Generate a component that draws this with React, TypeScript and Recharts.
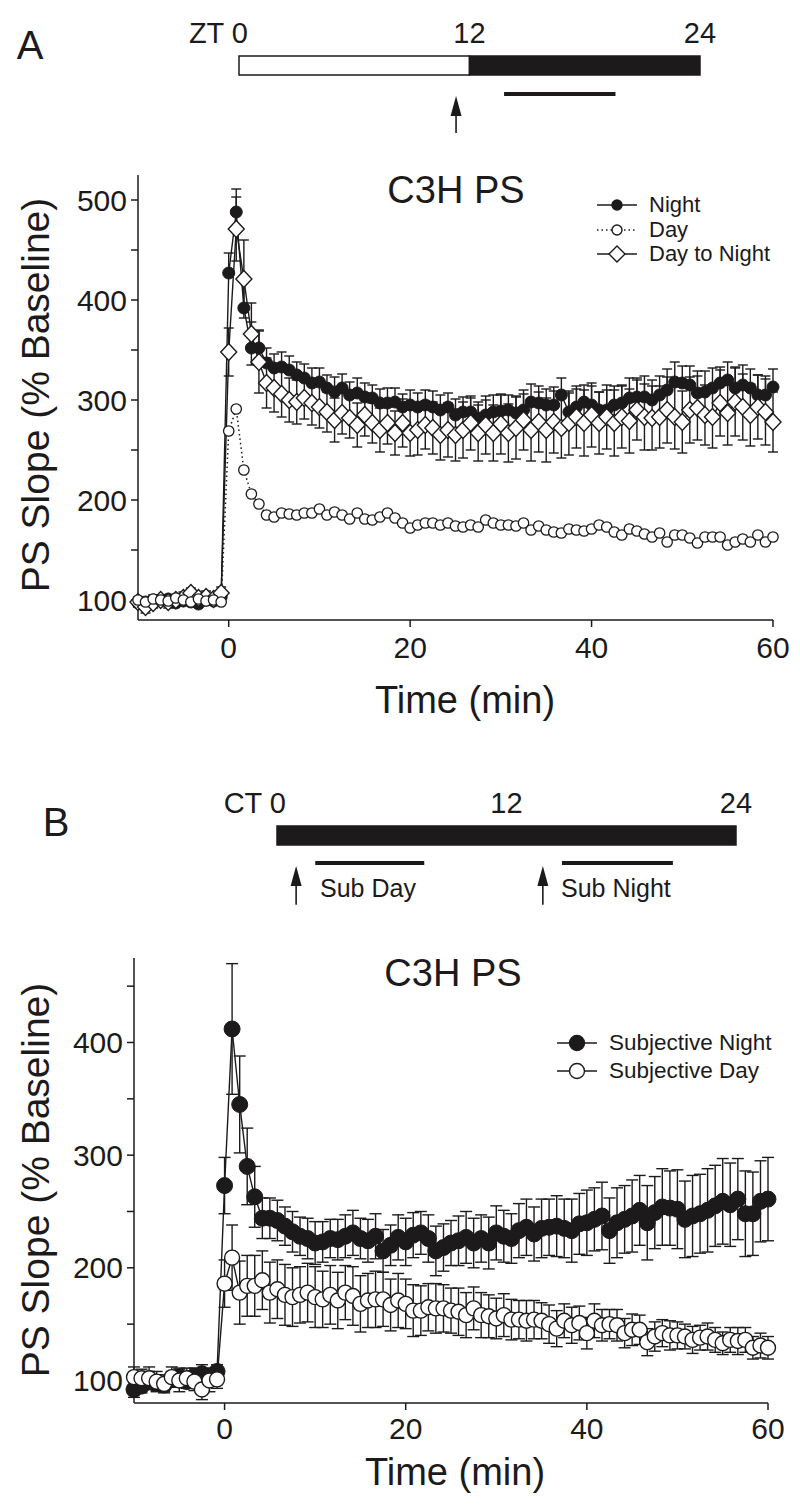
import React from "react";
import {
  ComposedChart,
  Line,
  XAxis,
  YAxis,
  ErrorBar,
  Legend,
  ReferenceArea,
  ReferenceLine,
  ReferenceDot,
} from "recharts";

const FONT = "'Liberation Sans', Arial, Helvetica, sans-serif";
const INK = "#1c1a1b";

// sample times (min) – one sweep every 50 s, 10 min baseline
const minutes = [
  -10, -9.17, -8.33, -7.5, -6.67, -5.83, -5, -4.17, -3.33, -2.5, -1.67, -0.83,
  0, 0.83, 1.67, 2.5, 3.33, 4.17, 5, 5.83, 6.67, 7.5, 8.33, 9.17, 10, 10.83,
  11.67, 12.5, 13.33, 14.17, 15, 15.83, 16.67, 17.5, 18.33, 19.17, 20, 20.83,
  21.67, 22.5, 23.33, 24.17, 25, 25.83, 26.67, 27.5, 28.33, 29.17, 30, 30.83,
  31.67, 32.5, 33.33, 34.17, 35, 35.83, 36.67, 37.5, 38.33, 39.17, 40, 40.83,
  41.67, 42.5, 43.33, 44.17, 45, 45.83, 46.67, 47.5, 48.33, 49.17, 50, 50.83,
  51.67, 52.5, 53.33, 54.17, 55, 55.83, 56.67, 57.5, 58.33, 59.17, 60,
];

// ---- panel A: C3H PS, Night / Day / Day to Night ----
const nightA = [
  97, 98, 100, 99, 101, 97, 99, 98, 96, 100, 99, 103,
  427, 488, 392, 352, 352, 337, 332, 333, 330, 325,
  322, 317, 318, 312, 308, 312, 305, 307, 303, 302,
  297, 297, 298, 293, 295, 293, 295, 293, 290, 293,
  285, 288, 288, 282, 285, 288, 289, 290, 287, 290,
  298, 297, 295, 295, 305, 288, 293, 298, 295, 290,
  290, 295, 297, 302, 303, 303, 300, 305, 310, 318,
  317, 315, 307, 308, 312, 317, 320, 312, 315, 312,
  305, 305, 313,
];
const nightErrA = [
  4, 4, 5, 4, 4, 5, 4, 4, 5, 4, 4, 5,
  20, 23, 30, 26, 18, 15, 14, 15, 14, 13,
  14, 15, 14, 13, 15, 14, 13, 15, 14, 13,
  14, 15, 14, 13, 15, 14, 15, 16, 15, 14,
  16, 15, 14, 16, 15, 17, 16, 15, 17, 16,
  18, 17, 16, 18, 17, 19, 18, 17, 19, 18,
  20, 19, 18, 20, 19, 21, 20, 19, 21, 20,
  17, 19, 22, 21, 20, 16, 18, 21, 20, 19,
  20, 19, 18,
];
const dayA = [
  100, 98, 101, 100, 99, 102, 100, 98, 101, 99, 100, 98,
  269, 291, 230, 206, 196, 185, 183, 187, 186, 185,
  187, 187, 191, 185, 188, 185, 181, 187, 181, 180,
  183, 187, 182, 177, 172, 175, 177, 177, 175, 177,
  174, 173, 175, 173, 180, 177, 175, 175, 174, 177,
  170, 174, 170, 168, 167, 171, 170, 169, 171, 175,
  173, 168, 165, 171, 169, 166, 163, 167, 158, 165,
  165, 162, 157, 163, 163, 163, 155, 158, 161, 158,
  165, 158, 163,
];
const dayToNightA = [
  98, 93, 97, 100, 98, 100, 102, 107, 102, 103, 101, 107,
  348, 471, 421, 366, 338, 317, 312, 306, 300, 298,
  302, 297, 293, 288, 280, 287, 282, 275, 285, 277,
  270, 277, 267, 277, 267, 270, 275, 272, 265, 270,
  265, 270, 277, 267, 275, 267, 276, 267, 272, 280,
  270, 278, 270, 278, 272, 277, 283, 277, 285, 277,
  283, 277, 283, 279, 290, 283, 282, 283, 290, 283,
  278, 290, 292, 285, 283, 297, 287, 298, 293, 285,
  293, 288, 278,
];
const dayToNightErrA = [
  5, 6, 5, 5, 6, 5, 6, 5, 5, 6, 5, 6,
  24, 32, 39, 31, 31, 25, 24, 23, 22, 22,
  21, 22, 21, 20, 22, 21, 20, 22, 21, 20,
  22, 21, 22, 24, 23, 25, 24, 26, 25, 27,
  26, 28, 27, 28, 29, 28, 30, 29, 31, 30,
  31, 30, 32, 31, 30, 32, 31, 33, 32, 31,
  32, 33, 31, 32, 30, 33, 32, 31, 33, 32,
  31, 33, 32, 30, 31, 33, 32, 34, 33, 31,
  32, 33, 30,
];

// ---- panel B: C3H PS, Subjective Night / Subjective Day ----
const subNightB = [
  92, 95, 100, 98, 96, 101, 103, 99, 104, 106, 104, 108,
  273, 412, 345, 290, 263, 244, 244, 242, 237, 232,
  228, 226, 222, 223, 226, 225, 228, 231, 226, 224,
  228, 215, 220, 227, 223, 229, 231, 226, 215, 218,
  222, 224, 227, 222, 226, 222, 231, 228, 226, 233,
  236, 230, 235, 236, 237, 235, 233, 239, 240, 243,
  246, 233, 240, 243, 246, 251, 240, 249, 254, 253,
  252, 243, 246, 248, 251, 255, 259, 256, 261, 248,
  248, 259, 261,
];
const subNightErrB = [
  7, 6, 8, 7, 6, 7, 8, 6, 7, 8, 7, 6,
  25, 58, 43, 34, 27, 18, 18, 18, 17, 18,
  17, 18, 19, 18, 17, 18, 19, 20, 18, 19,
  20, 19, 18, 20, 21, 20, 19, 21, 22, 21,
  20, 22, 23, 22, 21, 23, 24, 23, 22, 24,
  25, 24, 26, 25, 27, 26, 28, 27, 29, 28,
  30, 29, 31, 30, 32, 31, 33, 32, 34, 33,
  35, 34, 36, 35, 37, 36, 38, 37, 36, 38,
  37, 36, 37,
];
const subDayB = [
  103, 102, 102, 99, 97, 103, 100, 102, 99, 92, 100, 101,
  186, 209, 178, 184, 184, 189, 178, 181, 176, 174,
  176, 178, 174, 172, 176, 171, 178, 175, 168, 171,
  172, 172, 167, 171, 168, 162, 162, 165, 164, 164,
  162, 161, 158, 164, 158, 157, 155, 158, 154, 154,
  153, 154, 153, 150, 146, 153, 149, 151, 142, 153,
  149, 150, 149, 142, 145, 145, 134, 139, 142, 140,
  140, 139, 136, 138, 139, 136, 133, 136, 135, 136,
  129, 131, 129,
];
const subDayErrB = [
  9, 8, 10, 9, 8, 9, 10, 9, 8, 9, 10, 8,
  21, 29, 28, 27, 27, 26, 27, 26, 27, 26,
  25, 26, 27, 25, 26, 25, 24, 26, 25, 24,
  25, 24, 23, 24, 22, 23, 22, 21, 22, 21,
  20, 21, 20, 19, 20, 19, 18, 19, 18, 17,
  18, 17, 16, 17, 16, 15, 16, 15, 14, 15,
  14, 13, 14, 13, 14, 13, 12, 13, 12, 13,
  12, 11, 12, 11, 12, 11, 10, 11, 12, 11,
  10, 11, 10,
];

const timeTicks = [0, 20, 40, 60];
const yTicksA = [100, 150, 200, 250, 300, 350, 400, 450, 500];
const yTicksB = [100, 150, 200, 250, 300, 350, 400, 450];

// ---- circadian timelines (hours) ----
const hourTicks = [0, 12, 24];
const lightPhaseA = [0, 12];
const darkPhaseA = [12, 24];
const recordingA = [13.8, 19.6];
const arrowsA = [11.3];
const constantDarkB = [0, 24];
const subDayWindow = [2.0, 7.7];
const subNightWindow = [14.9, 20.7];
const arrowsB = [1.0, 13.9];

const rowsA = minutes.map((t, i) => ({
  t,
  night: nightA[i],
  nightErr: [0, nightErrA[i]],
  day: dayA[i],
  d2n: dayToNightA[i],
  d2nErr: dayToNightErrA[i],
}));

const rowsB = minutes.map((t, i) => ({
  t,
  night: subNightB[i],
  nightErr: subNightErrB[i],
  day: subDayB[i],
  dayErr: subDayErrB[i],
}));

const Diamond = (p: any) => {
  const { cx, cy, index } = p;
  if (cx == null || cy == null) return <g key={index} />;
  return (
    <polygon
      key={index}
      points={`${cx},${cy - 8.5} ${cx + 8},${cy} ${cx},${cy + 8.5} ${cx - 8},${cy}`}
      fill="#fff"
      stroke={INK}
      strokeWidth={1.4}
    />
  );
};

const OpenDot = (p: any) => {
  const { cx, cy, index } = p;
  if (cx == null || cy == null) return <g key={index} />;
  return <circle key={index} cx={cx} cy={cy} r={5.2} fill="#fff" stroke={INK} strokeWidth={1.3} />;
};

const Txt = ({
  x,
  y,
  size,
  children,
}: {
  x: number;
  y: number;
  size: number;
  children: React.ReactNode;
}) => (
  <div
    style={{
      position: "absolute",
      left: x,
      top: y,
      transform: "translate(-50%, -50%)",
      fontSize: size,
      lineHeight: 1,
      whiteSpace: "nowrap",
    }}
  >
    {children}
  </div>
);

type LegendItem = { name: string; marker: "filled" | "open" | "diamond"; dash?: string };

const makeLegend = (items: LegendItem[], rowH: number, r: number, size: number) => () =>
  (
    <div style={{ fontFamily: FONT, color: INK, fontSize: size, lineHeight: 1 }}>
      {items.map((it) => (
        <div key={it.name} style={{ display: "flex", alignItems: "center", height: rowH }}>
          <svg width={44} height={20} style={{ marginRight: 9 }}>
            <line x1={1} y1={10} x2={41} y2={10} stroke={INK} strokeWidth={1.4} strokeDasharray={it.dash} />
            {it.marker === "diamond" ? (
              <polygon points="21,2 29,10 21,18 13,10" fill="#fff" stroke={INK} strokeWidth={1.4} />
            ) : (
              <circle cx={21} cy={10} r={r} fill={it.marker === "filled" ? INK : "#fff"} stroke={INK} strokeWidth={1.4} />
            )}
          </svg>
          <span>{it.name}</span>
        </div>
      ))}
    </div>
  );

const legendA = makeLegend(
  [
    { name: "Night", marker: "filled" },
    { name: "Day", marker: "open", dash: "1.5 3" },
    { name: "Day to Night", marker: "diamond" },
  ],
  24.5,
  5,
  22
);

const legendB = makeLegend(
  [
    { name: "Subjective Night", marker: "filled" },
    { name: "Subjective Day", marker: "open" },
  ],
  28,
  7.5,
  22.5
);

const tickFont = { fontSize: 30, fill: INK, fontFamily: FONT };

const hourTick = (prefix: string) => (p: any) => {
  const { x, y, payload } = p;
  const v = payload.value;
  return (
    <text
      x={v === 0 ? x + 9 : x}
      y={y - 5}
      textAnchor={v === 0 ? "end" : "middle"}
      fontSize={29}
      fontFamily={FONT}
      fill={INK}
    >
      {v === 0 ? `${prefix} 0` : v}
    </text>
  );
};

const arrowHead = (p: any) => {
  const { cx, cy } = p;
  return <polygon points={`${cx},${cy} ${cx + 5.5},${cy + 20} ${cx - 5.5},${cy + 20}`} fill={INK} />;
};

const textMark = (label: string) => (p: any) =>
  (
    <text x={p.cx} y={p.cy} dominantBaseline="central" fontSize={25} fontFamily={FONT} fill={INK}>
      {label}
    </text>
  );

const hourFrame = [{ h: 0 }, { h: 12 }, { h: 24 }];

function TimelineA() {
  return (
    <ComposedChart width={800} height={140} data={hourFrame} margin={{ top: 26, right: 100, bottom: 0, left: 239 }}>
      <XAxis
        dataKey="h"
        type="number"
        domain={[0, 24]}
        allowDataOverflow
        ticks={hourTicks}
        orientation="top"
        height={30}
        axisLine={false}
        tickLine={false}
        tick={hourTick("ZT")}
      />
      <YAxis hide type="number" domain={[0, 4.42]} allowDataOverflow reversed />
      <ReferenceArea x1={lightPhaseA[0]} x2={lightPhaseA[1]} y1={0} y2={1} fill="#fff" fillOpacity={1} stroke={INK} strokeWidth={1.5} ifOverflow="visible" />
      <ReferenceArea x1={darkPhaseA[0]} x2={darkPhaseA[1]} y1={0} y2={1} fill={INK} fillOpacity={1} stroke={INK} strokeWidth={1.5} ifOverflow="visible" />
      <ReferenceLine
        segment={[{ x: recordingA[0], y: 2 }, { x: recordingA[1], y: 2 }]}
        stroke={INK}
        strokeWidth={4}
        ifOverflow="visible"
      />
      {arrowsA.map((h) => (
        <ReferenceLine key={`s${h}`} segment={[{ x: h, y: 2.6 }, { x: h, y: 4.05 }]} stroke={INK} strokeWidth={1.6} ifOverflow="visible" />
      ))}
      {arrowsA.map((h) => (
        <ReferenceDot key={`h${h}`} x={h} y={2.1} r={1} shape={arrowHead} ifOverflow="visible" />
      ))}
    </ComposedChart>
  );
}

function TimelineB() {
  return (
    <ComposedChart width={800} height={140} data={hourFrame} margin={{ top: 26, right: 64, bottom: 0, left: 277 }}>
      <XAxis
        dataKey="h"
        type="number"
        domain={[0, 24]}
        allowDataOverflow
        ticks={hourTicks}
        orientation="top"
        height={30}
        axisLine={false}
        tickLine={false}
        tick={hourTick("CT")}
      />
      <YAxis hide type="number" domain={[0, 4.42]} allowDataOverflow reversed />
      <ReferenceArea x1={constantDarkB[0]} x2={constantDarkB[1]} y1={0} y2={1} fill={INK} fillOpacity={1} stroke={INK} strokeWidth={1.5} ifOverflow="visible" />
      <ReferenceLine segment={[{ x: subDayWindow[0], y: 1.95 }, { x: subDayWindow[1], y: 1.95 }]} stroke={INK} strokeWidth={4} ifOverflow="visible" />
      <ReferenceLine segment={[{ x: subNightWindow[0], y: 1.95 }, { x: subNightWindow[1], y: 1.95 }]} stroke={INK} strokeWidth={4} ifOverflow="visible" />
      {arrowsB.map((h) => (
        <ReferenceLine key={`s${h}`} segment={[{ x: h, y: 2.6 }, { x: h, y: 4.15 }]} stroke={INK} strokeWidth={1.6} ifOverflow="visible" />
      ))}
      {arrowsB.map((h) => (
        <ReferenceDot key={`h${h}`} x={h} y={2.1} r={1} shape={arrowHead} ifOverflow="visible" />
      ))}
      <ReferenceDot x={subDayWindow[0] + 0.25} y={3.25} r={1} shape={textMark("Sub Day")} ifOverflow="visible" />
      <ReferenceDot x={subNightWindow[0] - 0.05} y={3.25} r={1} shape={textMark("Sub Night")} ifOverflow="visible" />
    </ComposedChart>
  );
}

function PanelA() {
  return (
    <ComposedChart width={800} height={560} data={rowsA} margin={{ top: 35, right: 27, bottom: 40, left: 68 }}>
      <XAxis
        dataKey="t"
        type="number"
        domain={[-10, 60]}
        ticks={timeTicks}
        height={40}
        tickSize={7}
        tickMargin={10}
        tick={tickFont}
        stroke={INK}
        strokeWidth={1.5}
      />
      <YAxis
        type="number"
        domain={[80, 525]}
        ticks={yTicksA}
        width={70}
        tickSize={7}
        tickMargin={4}
        tick={tickFont}
        tickFormatter={(v: number) => (v % 100 === 0 ? String(v) : "")}
        stroke={INK}
        strokeWidth={1.5}
      />
      <Legend content={legendA} layout="vertical" align="center" verticalAlign="middle" wrapperStyle={{ left: 596, top: 53, width: 200 }} />
      <Line
        dataKey="night"
        name="Night"
        stroke={INK}
        strokeWidth={1.4}
        dot={{ r: 6, fill: INK, stroke: INK, strokeWidth: 1 }}
        activeDot={false}
        isAnimationActive={false}
      >
        <ErrorBar dataKey="nightErr" width={5} stroke={INK} strokeWidth={1.4} direction="y" />
      </Line>
      <Line
        dataKey="d2n"
        name="Day to Night"
        stroke={INK}
        strokeWidth={1.4}
        dot={Diamond}
        activeDot={false}
        isAnimationActive={false}
      >
        <ErrorBar dataKey="d2nErr" width={5} stroke={INK} strokeWidth={1.4} direction="y" />
      </Line>
      <Line
        dataKey="day"
        name="Day"
        stroke={INK}
        strokeWidth={1.5}
        strokeDasharray="1.5 3"
        dot={OpenDot}
        activeDot={false}
        isAnimationActive={false}
      />
    </ComposedChart>
  );
}

function PanelB() {
  return (
    <ComposedChart width={800} height={560} data={rowsB} margin={{ top: 38, right: 32, bottom: 37, left: 64 }}>
      <XAxis
        dataKey="t"
        type="number"
        domain={[-10, 60]}
        ticks={timeTicks}
        height={40}
        tickSize={7}
        tickMargin={8}
        tick={tickFont}
        stroke={INK}
        strokeWidth={1.5}
      />
      <YAxis
        type="number"
        domain={[80, 475]}
        ticks={yTicksB}
        width={70}
        tickSize={7}
        tickMargin={4}
        tick={tickFont}
        tickFormatter={(v: number) => (v % 100 === 0 ? String(v) : "")}
        stroke={INK}
        strokeWidth={1.5}
      />
      <Legend content={legendB} layout="vertical" align="center" verticalAlign="middle" wrapperStyle={{ left: 556, top: 109, width: 240 }} />
      <Line
        dataKey="night"
        name="Subjective Night"
        stroke={INK}
        strokeWidth={1.4}
        dot={{ r: 8, fill: INK, stroke: INK, strokeWidth: 1 }}
        activeDot={false}
        isAnimationActive={false}
      >
        <ErrorBar dataKey="nightErr" width={6} stroke={INK} strokeWidth={1.4} direction="y" />
      </Line>
      <Line
        dataKey="day"
        name="Subjective Day"
        stroke={INK}
        strokeWidth={1.4}
        dot={{ r: 7.5, fill: "#fff", stroke: INK, strokeWidth: 1.4 }}
        activeDot={false}
        isAnimationActive={false}
      >
        <ErrorBar dataKey="dayErr" width={6} stroke={INK} strokeWidth={1.4} direction="y" />
      </Line>
    </ComposedChart>
  );
}

export default function App() {
  return (
    <div
      style={{
        position: "absolute",
        left: 0,
        top: 0,
        width: 800,
        height: 1507,
        background: "#fff",
        fontFamily: FONT,
        color: INK,
        overflow: "hidden",
      }}
    >
      <div style={{ position: "absolute", left: 0, top: 0 }}>
        <TimelineA />
      </div>
      <div style={{ position: "absolute", left: 0, top: 140 }}>
        <PanelA />
      </div>
      <div style={{ position: "absolute", left: 0, top: 770 }}>
        <TimelineB />
      </div>
      <div style={{ position: "absolute", left: 0, top: 920 }}>
        <PanelB />
      </div>

      <Txt x={30} y={45} size={40}>A</Txt>
      <Txt x={56} y={822} size={40}>B</Txt>
      <Txt x={456} y={190} size={38}>C3H PS</Txt>
      <Txt x={453} y={973} size={38}>C3H PS</Txt>
      <Txt x={35} y={395} size={39}>
        <span style={{ display: "inline-block", transform: "rotate(-90deg)" }}>PS Slope (% Baseline)</span>
      </Txt>
      <Txt x={35} y={1180} size={39}>
        <span style={{ display: "inline-block", transform: "rotate(-90deg)" }}>PS Slope (% Baseline)</span>
      </Txt>
      <Txt x={465} y={700} size={38}>Time (min)</Txt>
      <Txt x={455} y={1472} size={38}>Time (min)</Txt>
    </div>
  );
}
